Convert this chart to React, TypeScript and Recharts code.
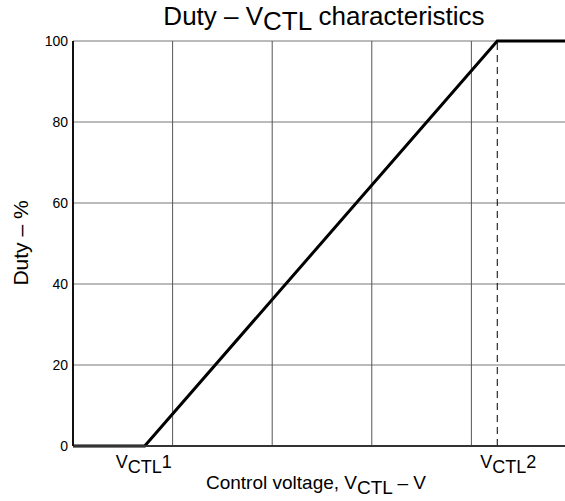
import React from 'react';
import { LineChart, Line, XAxis, YAxis, CartesianGrid, ReferenceLine, Label } from 'recharts';

const lineX = [0, 0.72, 4.26, 4.94];
const lineY = [0, 0, 100, 100];
const yTicks = [0, 20, 40, 60, 80, 100];
const gridX = [1, 2, 3, 4];
const xTickValues = [0.71, 4.37];
const xTickNames = ['1', '2'];
const vctl2 = 4.26;

const data = lineX.map((x, i) => ({ x, duty: lineY[i] }));

const FONT = '"Liberation Sans", Arial, sans-serif';

const XTick = (props: any) => {
  const { x, index } = props;
  const suffix = xTickNames[index] ?? '';
  return (
    <text x={x} y={468} textAnchor="middle" fontFamily={FONT} fontSize={18} fill="#000">
      V<tspan dy={5}>CTL</tspan><tspan dy={-5}>{suffix}</tspan>
    </text>
  );
};

const XLabel = () => {
  return (
    <text x={316} y={489} textAnchor="middle" fontFamily={FONT} fontSize={19} fill="#000">
      Control voltage, V<tspan dy={5}>CTL</tspan><tspan dy={-5}> – V</tspan>
    </text>
  );
};

const YLabel = () => {
  return (
    <text x={28} y={243} transform="rotate(-90 28 243)" textAnchor="middle" fontFamily={FONT} fontSize={21} fill="#000">
      Duty – %
    </text>
  );
};

export default function App() {
  return (
    <div style={{ position: 'absolute', left: 0, top: 0, width: 565, height: 501, background: '#fff' }}>
      <div style={{ position: 'absolute', left: 0, top: 1, width: 648, textAlign: 'center', fontFamily: FONT, fontSize: 26, color: '#000', lineHeight: '30px', whiteSpace: 'nowrap' }}>
        Duty – V<span style={{ position: 'relative', top: 5 }}>CTL</span> characteristics
      </div>
      <LineChart width={565} height={501} data={data} margin={{ top: 41, right: 0, bottom: 0, left: 0 }}>
        <CartesianGrid vertical={false} stroke="#777" strokeWidth={1} />
        {gridX.map((g) => (
          <ReferenceLine key={g} x={g} stroke="#555" strokeWidth={1} />
        ))}
        <ReferenceLine
          segment={[{ x: vctl2, y: 0 }, { x: vctl2, y: 100 }]}
          stroke="#000"
          strokeWidth={1}
          strokeDasharray="7 5"
        />
        <XAxis
          dataKey="x"
          type="number"
          domain={[0, 4.94]}
          ticks={xTickValues}
          tick={<XTick />}
          tickLine={false}
          axisLine={{ stroke: '#333', strokeWidth: 2 }}
          height={55}
          interval={0}
        >
          <Label content={<XLabel />} />
        </XAxis>
        <YAxis
          type="number"
          domain={[0, 100]}
          ticks={yTicks}
          width={73}
          tickLine={false}
          tickSize={0}
          tickMargin={5}
          tick={{ fontFamily: FONT, fontSize: 14, fill: '#000' }}
          axisLine={{ stroke: '#111', strokeWidth: 2 }}
        >
          <Label content={<YLabel />} />
        </YAxis>
        <Line
          type="linear"
          dataKey="duty"
          stroke="#000"
          strokeWidth={3}
          dot={false}
          isAnimationActive={false}
        />
      </LineChart>
    </div>
  );
}
